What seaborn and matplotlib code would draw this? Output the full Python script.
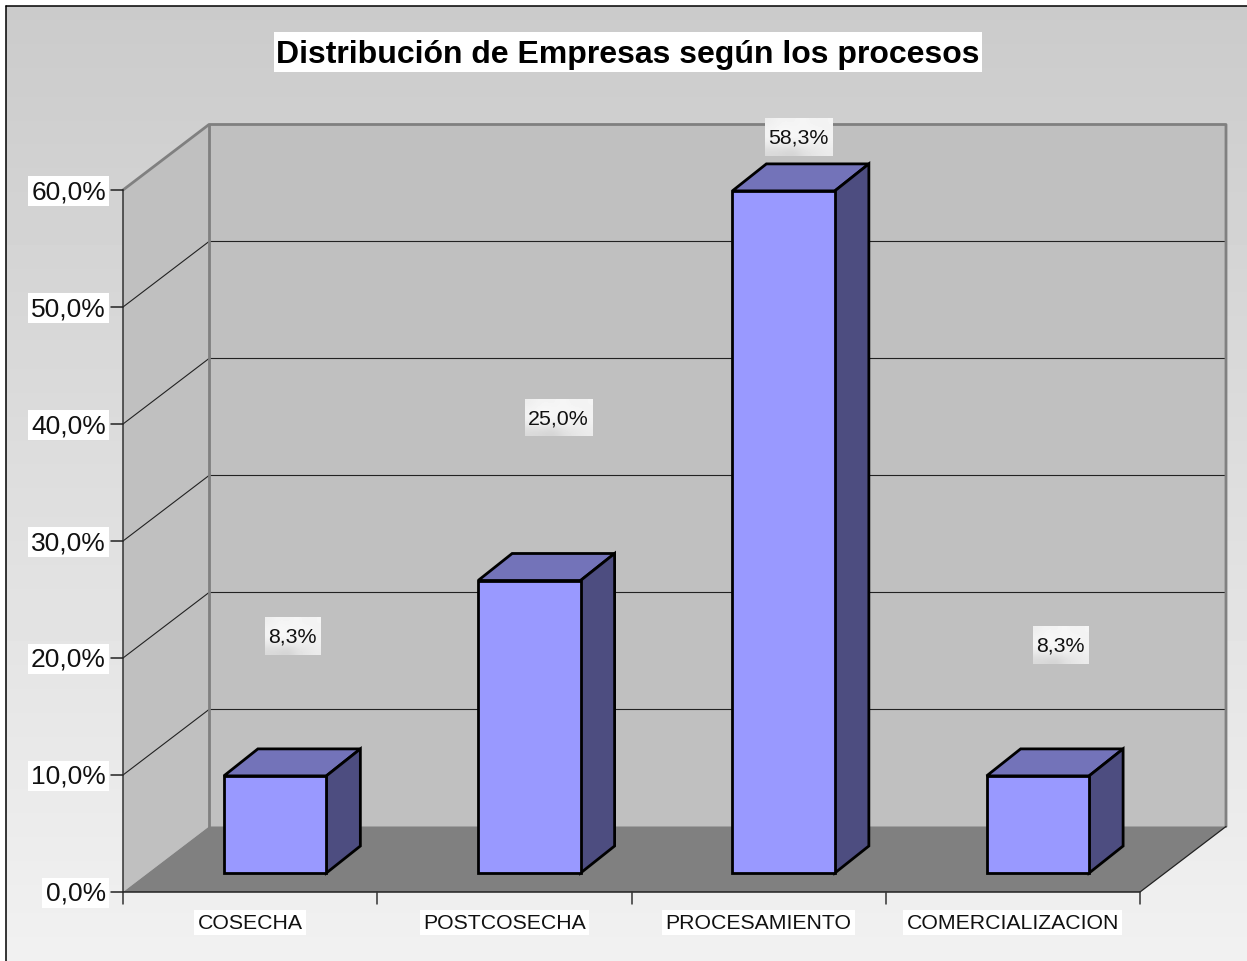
import numpy as np
import matplotlib
matplotlib.use("Agg")
import matplotlib.pyplot as plt
from matplotlib.patches import Polygon, Rectangle
from matplotlib.transforms import Affine2D
import seaborn as sns

categories = ["COSECHA", "POSTCOSECHA", "PROCESAMIENTO", "COMERCIALIZACION"]
values = [8.3, 25.0, 58.3, 8.3]
value_labels = ["8,3%", "25,0%", "58,3%", "8,3%"]
y_ticks = [0, 10, 20, 30, 40, 50, 60]
y_tick_labels = ["0,0%", "10,0%", "20,0%", "30,0%", "40,0%", "50,0%", "60,0%"]
title = "Distribución de Empresas según los procesos"

W, H = 1247, 962
sns.set_theme(style="white")
plt.rcParams["font.family"] = ["Liberation Sans", "DejaVu Sans"]

fig = plt.figure(figsize=(W / 100, H / 100), dpi=100, facecolor="white")

# background gradient, in pixel coords
bg = fig.add_axes([0, 0, 1, 1], zorder=0)
bg.axis("off")
grad = np.linspace(0.795, 0.945, 200).reshape(-1, 1)
bg.imshow(grad, cmap="gray", vmin=0, vmax=1, extent=[6, W, H, 7], aspect="auto", zorder=0)
bg.set_xlim(0, W)
bg.set_ylim(H, 0)
bg.plot([6, 6], [H, 7], color="black", lw=1.1, zorder=1)
bg.plot([6, W], [7, 7], color="black", lw=1.1, zorder=1)

# plot box: front plane of the 3d chart
x0, x1, y_top, y_bot = 123, 1140, 191, 893
ax = fig.add_axes([x0 / W, 1 - y_bot / H, (x1 - x0) / W, (y_bot - y_top) / H], zorder=2)
ax.patch.set_alpha(0)

df = {"cat": categories, "val": values}
sns.barplot(data=df, x="cat", y="val", ax=ax, color="#9999ff", saturation=1,
            width=0.403, edgecolor="black", linewidth=2.0, zorder=6)
ax.set_xlim(-0.5, 3.5)
ax.set_ylim(0, 60)
ax.set_xlabel("")
ax.set_ylabel("")
for s in ax.spines.values():
    s.set_visible(False)

# depth of the walls and of the bars, in pixels (y up)
wall_dx, wall_dy = 86, 65.5
bar_shift = (25, 19)
bar_dx, bar_dy = 34, 27


def px(x, y):
    # data to overlay pixel coords
    X, Y = ax.transData.transform((x, y))
    return X, H - Y


# overlay in pixel coords, below the bars
ov = fig.add_axes([0, 0, 1, 1], zorder=1)
ov.set_xlim(0, W)
ov.set_ylim(H, 0)
ov.axis("off")

ov.add_patch(Polygon([(x0 + wall_dx, y_top - wall_dy), (x1 + wall_dx, y_top - wall_dy),
                      (x1 + wall_dx, y_bot - wall_dy), (x0 + wall_dx, y_bot - wall_dy)],
                     fc="#c0c0c0", ec="none", zorder=1))
ov.add_patch(Polygon([(x0, y_top), (x0 + wall_dx, y_top - wall_dy),
                      (x0 + wall_dx, y_bot - wall_dy), (x0, y_bot)],
                     fc="#c0c0c0", ec="none", zorder=1))
ov.add_patch(Polygon([(x0, y_bot), (x0 + wall_dx, y_bot - wall_dy),
                      (x1 + wall_dx, y_bot - wall_dy), (x1, y_bot)],
                     fc="#808080", ec="none", zorder=2))

# gridlines along both walls
for t in y_ticks[1:-1]:
    _, yy = px(0, t)
    ov.plot([x0, x0 + wall_dx, x1 + wall_dx], [yy, yy - wall_dy, yy - wall_dy],
            color="#222222", lw=0.8, zorder=3)

# wall outline
wall_col = "#808080"
ov.plot([x0, x0 + wall_dx, x1 + wall_dx, x1 + wall_dx],
        [y_top, y_top - wall_dy, y_top - wall_dy, y_bot - wall_dy], color=wall_col, lw=2, zorder=4)
ov.plot([x0 + wall_dx, x0 + wall_dx], [y_top - wall_dy, y_bot - wall_dy], color=wall_col, lw=2, zorder=4)
ov.plot([x1, x1 + wall_dx], [y_bot, y_bot - wall_dy], color="#222222", lw=0.9, zorder=4)

# front axis lines and ticks
ov.plot([x0, x0], [y_top, y_bot + 12], color="#333333", lw=1.1, zorder=4)
ov.plot([x0 - 12, x1], [y_bot, y_bot], color="#222222", lw=1.1, zorder=4)
for t in y_ticks[1:]:
    _, yy = px(0, t)
    ov.plot([x0 - 12, x0], [yy, yy], color="#222222", lw=1.1, zorder=4)
for i in range(1, len(categories) + 1):
    xx, _ = px(i - 0.5, 0)
    ov.plot([xx, xx], [y_bot, y_bot + 12], color="#333333", lw=1.1, zorder=4)

# faces of the bars, shifted off the floor line
bars = list(ax.patches)
shift = Affine2D().translate(*bar_shift)
for bar, v in zip(bars, values):
    bar.set_transform(bar.get_data_transform() + shift)
    bar.set_clip_on(False)
    bar.set_joinstyle("miter")
    l, _ = px(bar.get_x(), 0)
    r, _ = px(bar.get_x() + bar.get_width(), 0)
    _, b = px(0, 0)
    _, t = px(0, v)
    l, r = l + bar_shift[0], r + bar_shift[0]
    b, t = b - bar_shift[1], t - bar_shift[1]
    ov.add_patch(Polygon([(l, t), (l + bar_dx, t - bar_dy), (r + bar_dx, t - bar_dy), (r, t)],
                         fc="#7373b9", ec="black", lw=2.0, zorder=5))
    ov.add_patch(Polygon([(r, t), (r + bar_dx, t - bar_dy), (r + bar_dx, b - bar_dy), (r, b)],
                         fc="#4d4d80", ec="black", lw=2.0, zorder=5))

# text
white = dict(facecolor="white", edgecolor="none", pad=2.5)
ax_text = fig.add_axes([0, 0, 1, 1], zorder=5)
ax_text.axis("off")

ax_text.add_patch(Rectangle((274, 33), 708, 40, fc="white", ec="none", zorder=1))
ax_text.text(627.5, 55, title, fontsize=23.05, fontweight="bold", color="black",
             ha="center", va="center", zorder=2)
for t, lab in zip(y_ticks, y_tick_labels):
    _, yy = px(0, t)
    ax_text.text(106, yy + 1, lab, fontsize=19.0, color="#111111", ha="right", va="center", bbox=white)
for i, cat in enumerate(categories):
    xx, _ = px(i, 0)
    ax_text.text(xx, 923.5, cat, fontsize=15.35, color="#111111", ha="center", va="center", bbox=white)

# mottled label backgrounds
texture = np.array([[0.93, 0.96, 0.95, 0.97, 0.94, 0.96],
                    [0.96, 0.98, 0.97, 0.96, 0.98, 0.95],
                    [0.94, 0.97, 0.95, 0.97, 0.93, 0.95],
                    [0.85, 0.84, 0.82, 0.88, 0.90, 0.92]])
label_boxes = [(265, 321, 618, 656), (525, 593, 400, 437), (765, 833, 119, 157), (1033, 1089, 627, 665)]
for (xa, xb, ya, yb), lab in zip(label_boxes, value_labels):
    ax_text.imshow(texture, cmap="gray", vmin=0, vmax=1, extent=[xa, xb, yb, ya],
                   aspect="auto", interpolation="bicubic", zorder=1)
    ax_text.text((xa + xb) / 2 - 0.5, (ya + yb) / 2 + 0.5, lab, fontsize=15.4, color="#111111",
                 ha="center", va="center", zorder=2)
ax_text.set_xlim(0, W)
ax_text.set_ylim(H, 0)

ax.set_xticks([])
ax.set_yticks([])
fig.savefig("out.png", dpi=100)
